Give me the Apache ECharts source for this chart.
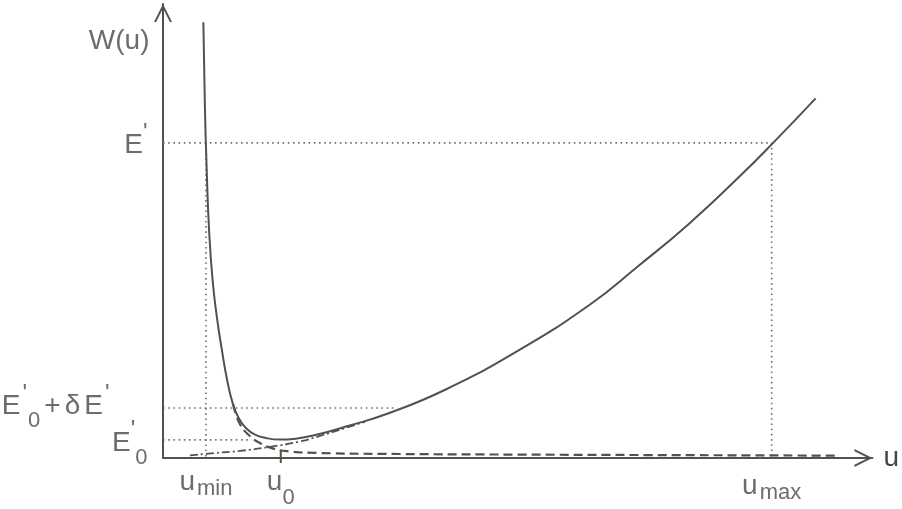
<!DOCTYPE html>
<html>
<head>
<meta charset="utf-8">
<script src="https://cdn.jsdelivr.net/npm/echarts@6/dist/echarts.min.js"></script>
<style>
  html, body { margin: 0; background: #fff; }
  #chart { width: 902px; height: 509px; }
</style>
</head>
<body>
<div id="chart"></div>
<script>
// marked positions on the axes
const uMin = 6.05
const u0 = 16.6
const uMax = 85.8
const ePrime = 69.4
const e0 = 4.0
const e0PlusDelta = 11.0
// where the two lower dotted levels stop
const e0End = 12.5
const e0PlusDeltaEnd = 32.9

// total potential W(u), solid
const wTotal = [
  [5.69, 96.0], [5.9, 78.0], [6.15, 64.0], [6.5, 50.0], [7.0, 39.0], [7.6, 31.0],
  [8.3, 23.8], [9.0, 17.5], [9.8, 12.2], [10.7, 8.7], [11.7, 6.6], [12.9, 5.2],
  [14.5, 4.4], [16.5, 4.05], [18.7, 4.25], [21.6, 5.1], [26.2, 7.1], [31.9, 9.9],
  [40.0, 15.2], [49.7, 23.3], [60.0, 33.6], [67.0, 42.3], [74.0, 51.4], [81.0, 61.6],
  [86.0, 69.4], [92.0, 79.2]
]
// rising branch, dash-dot
const wAttract = [
  [3.8, 0.6], [7.3, 1.1], [10.8, 1.55], [15.3, 2.5], [19.2, 3.6], [22.0, 4.8],
  [25.5, 6.5], [28.5, 8.0]
]
// falling branch, dashed
const wRepel = [
  [9.9, 11.8], [10.8, 7.6], [12.2, 4.9], [13.9, 3.1], [15.7, 2.0], [17.8, 1.45],
  [22.0, 1.1], [33.3, 0.88], [50.1, 0.75], [68.4, 0.65], [89.5, 0.55], [95.0, 0.5]
]

const ink = '#4f544b'
const textInk = '#474747'
const dotInk = '#6f6f6f'
const font = '"Liberation Sans", Arial, sans-serif'

const rich = {
  m: { fontSize: 28, lineHeight: 28, padding: [10, 0, 14, 0], fontFamily: font, color: textInk },
  w: { fontSize: 28, lineHeight: 28, padding: [10, 2, 14, 2], fontFamily: font, color: textInk },
  p: { fontSize: 24, lineHeight: 24, padding: [0, 0, 28, 0], fontFamily: font, color: textInk },
  z: { fontSize: 22, lineHeight: 22, padding: [28, 0, 2, 0], fontFamily: font, color: textInk },
  y: { fontSize: 22, lineHeight: 22, padding: [28, 2, 2, 1], fontFamily: font, color: textInk },
  t: { fontSize: 22, lineHeight: 22, padding: [19, 0, 11, 2], fontFamily: font, color: textInk }
}

function tag(value, formatter, position, distance, offset) {
  return {
    value: value,
    label: { show: true, position: position, distance: distance, offset: offset || [0, 0], formatter: formatter, rich: rich }
  }
}

const arrow = 'path://M0,20 L10,0 L20,20 L17.6,20 L10,4.8 L2.4,20 Z'

const dotted = { color: dotInk, width: 1.6, type: [1.6, 3.6] }

function guide(points) {
  return {
    type: 'line', data: points, symbol: 'none', silent: true,
    lineStyle: dotted, z: 1
  }
}

const chart = echarts.init(document.getElementById('chart'))
chart.setOption({
  animation: false,
  grid: { left: 163, right: 27, top: 4, bottom: 51 },
  xAxis: {
    type: 'value', min: 0, max: 100,
    name: 'u', nameLocation: 'end', nameGap: 11,
    nameTextStyle: { fontSize: 28, fontFamily: font, color: textInk, verticalAlign: 'middle' },
    axisLine: { show: true, lineStyle: { color: ink, width: 2 }, symbol: ['none', arrow], symbolSize: [18, 18], symbolOffset: [0, -9] },
    axisTick: { show: false }, axisLabel: { show: false }, splitLine: { show: false }
  },
  yAxis: {
    type: 'value', min: 0, max: 100,
    axisLine: { show: true, lineStyle: { color: ink, width: 2 }, symbol: ['none', arrow], symbolSize: [18, 18], symbolOffset: [0, -9] },
    axisTick: { show: false }, axisLabel: { show: false }, splitLine: { show: false }
  },
  series: [
    guide([[0, ePrime], [uMax, ePrime], [uMax, 0]]),
    guide([[uMin, ePrime], [uMin, 0]]),
    guide([[0, e0PlusDelta], [e0PlusDeltaEnd, e0PlusDelta]]),
    guide([[0, e0], [e0End, e0]]),
    {
      type: 'line', data: [[u0, -1.1], [u0, 1.8]], symbol: 'none', clip: false, silent: true,
      lineStyle: { color: ink, width: 2 }, z: 2
    },
    {
      type: 'line', data: wRepel, symbol: 'none', smooth: 0.5,
      lineStyle: { color: ink, width: 2.2, type: [9, 5] }, z: 3
    },
    {
      type: 'line', data: wAttract, symbol: 'none', smooth: 0.5,
      lineStyle: { color: ink, width: 1.8, type: [8, 3, 2, 3] }, z: 3
    },
    {
      type: 'line', data: wTotal, symbol: 'none', smooth: 0.5,
      lineStyle: { color: ink, width: 2 }, z: 4
    },
    {
      type: 'scatter', symbolSize: 1, silent: true, itemStyle: { color: 'rgba(0,0,0,0)' }, z: 5,
      data: [
        tag([0, 91.3], '{m|W(u)}', 'left', 13),
        tag([0, ePrime], "{m|E}{p|'}", 'left', 15, [0, 4]),
        tag([0, e0PlusDelta], "{w|E}{p|'}{y|0}{w|+}{w|δ}{w|E}{p|'}", 'left', 53),
        tag([0, e0], "{m|E}{p|'}{z|0}", 'left', 15, [0, 5]),
        tag([uMin, 0], '{m|u}{t|min}', 'bottom', 0, [0, 12]),
        tag([u0, 0], '{m|u}{z|0}', 'bottom', 0, [0, 12]),
        tag([uMax, 0], '{m|u}{t|max}', 'bottom', 0, [0, 16])
      ]
    }
  ]
})
</script>
</body>
</html>
